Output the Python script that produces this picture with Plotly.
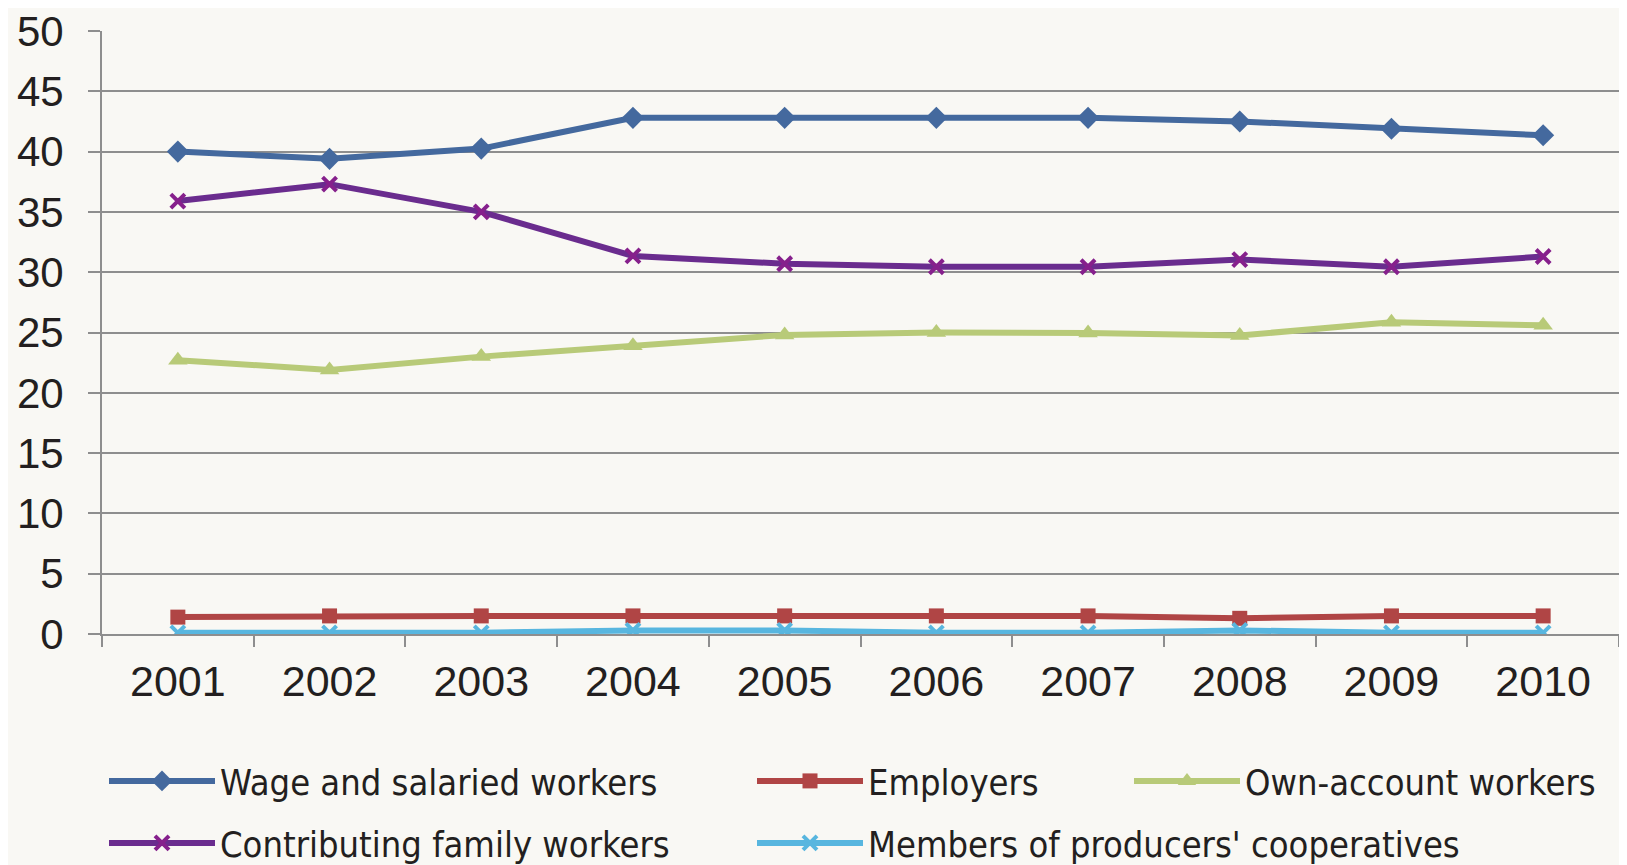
import plotly.graph_objects as go

years = ["2001", "2002", "2003", "2004", "2005", "2006", "2007", "2008", "2009", "2010"]
wage = [40.0, 39.4, 40.25, 42.8, 42.8, 42.8, 42.8, 42.5, 41.9, 41.35]
employers = [1.4, 1.5, 1.5, 1.5, 1.5, 1.5, 1.5, 1.3, 1.5, 1.5]
own_account = [22.7, 21.9, 23.0, 23.9, 24.8, 25.0, 24.95, 24.75, 25.85, 25.6]
contributing = [35.9, 37.3, 35.0, 31.35, 30.7, 30.45, 30.45, 31.05, 30.45, 31.3]
members = [0.1, 0.1, 0.1, 0.3, 0.3, 0.1, 0.1, 0.3, 0.1, 0.1]
y_ticks = [0, 5, 10, 15, 20, 25, 30, 35, 40, 45, 50]

# page body has an 8px margin, so the figure is sized to fill the rest of the window
W, H = 1619, 857
BG = "#F9F8F4"
GRID = "#8E8E8E"

series = [
    ("Wage and salaried workers", wage, "#44699E", "#44699E", "diamond", 17, "legend"),
    ("Employers", employers, "#B04545", "#B04545", "square", 15, "legend2"),
    ("Own-account workers", own_account, "#B8CA78", "#B8CA78", "triangle-up", 17, "legend3"),
    ("Contributing family workers", contributing, "#6A2C8E", "#86208C", "x-thin", 14, "legend4"),
    ("Members of producers' cooperatives", members, "#58B6DF", "#58B6DF", "x-thin", 14, "legend5"),
]

fig = go.Figure()
for name, vals, lc, mc, sym, sz, lg in series:
    marker = dict(symbol=sym, size=sz, color=mc)
    if sym == "x-thin":
        marker["line"] = dict(color=mc, width=4)
    fig.add_trace(go.Scatter(
        x=years, y=vals, name=name, mode="lines+markers",
        line=dict(color=lc, width=6), marker=marker, legend=lg,
    ))

legend_font = dict(family="DejaVu Sans Condensed, Liberation Sans", size=36, color="#231F20")
leg_common = dict(xref="container", yref="container", xanchor="left", yanchor="middle",
                  bgcolor="rgba(0,0,0,0)", font=legend_font, itemwidth=106,
                  orientation="v")
pos = {
    "legend": (96, 773),
    "legend2": (744, 773),
    "legend3": (1121, 773),
    "legend4": (96, 835),
    "legend5": (744, 835),
}
layout_legends = {}
for k, (px, py) in pos.items():
    layout_legends[k] = dict(leg_common, x=px / W, y=1 - py / H)

fig.update_layout(
    width=W, height=H,
    paper_bgcolor=BG, plot_bgcolor=BG,
    margin=dict(l=94, r=8, t=23, b=231, autoexpand=False),
    showlegend=True,
    font=dict(family="Liberation Sans", size=43, color="#231F20"),
    xaxis=dict(
        type="category", range=[-0.5, 9.5], showgrid=False,
        showline=True, linecolor=GRID, linewidth=2,
        ticks="outside", tickson="boundaries", ticklen=11, tickcolor=GRID, tickwidth=2,
        tickfont=dict(family="Liberation Sans", size=43, color="#231F20"),
        ticklabelstandoff=8, automargin=False, ticklabeloverflow="allow",
    ),
    yaxis=dict(
        range=[0, 50], tickvals=y_ticks, showgrid=True, gridcolor=GRID, gridwidth=2,
        showline=True, linecolor=GRID, linewidth=2, zeroline=False,
        ticks="outside", ticklen=12, tickcolor=GRID, tickwidth=2,
        tickfont=dict(family="Liberation Sans", size=42, color="#231F20"),
        ticklabelstandoff=16, automargin=False, ticklabeloverflow="allow",
    ),
    **layout_legends,
)

fig.write_html("out.html")
